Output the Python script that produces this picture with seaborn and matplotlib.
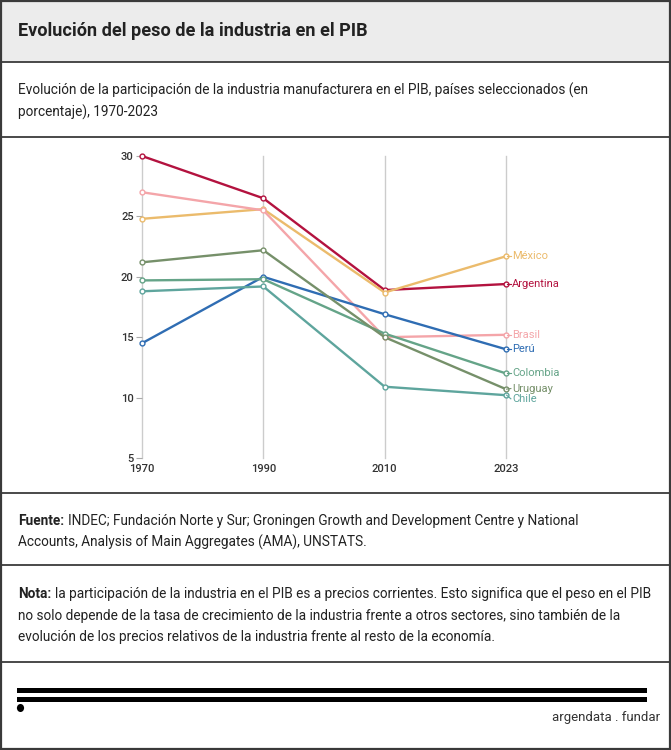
import matplotlib
matplotlib.use("Agg")
import matplotlib.pyplot as plt
import seaborn as sns
import pandas as pd
from matplotlib.lines import Line2D
from matplotlib.patches import Rectangle, Circle

# ---------------- data ----------------
years = ["1970", "1990", "2010", "2023"]
argentina = [30.0, 26.5, 18.9, 19.4]
mexico = [24.8, 25.6, 18.7, 21.7]
brasil = [27.0, 25.5, 15.0, 15.2]
peru = [14.5, 20.0, 16.9, 14.0]
colombia = [19.7, 19.8, 15.3, 12.0]
uruguay = [21.2, 22.2, 15.0, 10.7]
chile = [18.8, 19.2, 10.9, 10.2]
countries = ["Argentina", "México", "Brasil", "Perú", "Colombia", "Uruguay", "Chile"]
series = [argentina, mexico, brasil, peru, colombia, uruguay, chile]
label_y = [19.4, 21.7, 15.2, 14.0, 12.0, 10.75, 9.9]
yticks = [5, 10, 15, 20, 25, 30]

colors = {
    "Argentina": "#b3123f",
    "México": "#ebbb6c",
    "Brasil": "#f4a5a9",
    "Perú": "#2f6db3",
    "Colombia": "#65a488",
    "Uruguay": "#76906a",
    "Chile": "#5ea59d",
}

rows = []
for c, vals in zip(countries, series):
    for y, v in zip(years, vals):
        rows.append({"year": y, "value": v, "country": c})
df = pd.DataFrame(rows)

W, H = 671, 750
fig = plt.figure(figsize=(W / 100, H / 100), dpi=100)
plt.rcParams["font.family"] = ["Roboto", "DejaVu Sans"]

def fx(x):
    return x / W

def fy(y):
    return 1 - y / H

# ---------------- frame / boxes ----------------
fig.add_artist(Rectangle((0, fy(62)), 1, 62 / H, transform=fig.transFigure,
                         facecolor="#ececec", edgecolor="none", zorder=0))
border = "#3a3a3a"
for yy in [62, 137, 493, 565, 662]:
    fig.add_artist(Line2D([0, 1], [fy(yy), fy(yy)], transform=fig.transFigure,
                          color=border, lw=1.3))
fig.add_artist(Rectangle((0.001, 0.001), 0.998, 0.998, transform=fig.transFigure,
                         facecolor="none", edgecolor=border, lw=1.6, zorder=5))

txtc = "#222222"
fig.text(fx(18), fy(31), "Evolución del peso de la industria en el PIB",
         fontsize=13.1, fontweight="bold", color=txtc, va="center", ha="left")
fig.text(fx(18), fy(90), "Evolución de la participación de la industria manufacturera en el PIB, países seleccionados (en",
         fontsize=9.8, color=txtc, va="center", ha="left")
fig.text(fx(18), fy(112), "porcentaje), 1970-2023",
         fontsize=9.8, color=txtc, va="center", ha="left")

fig.canvas.draw()
renderer = fig.canvas.get_renderer()

def mixed(x, y, bold, rest, size=9.8):
    t = fig.text(fx(x), fy(y), bold, fontsize=size, fontweight="bold",
                 color=txtc, va="center", ha="left")
    bb = t.get_window_extent(renderer=renderer)
    fig.text(fx(x) + (bb.width + 3.5) / W, fy(y), rest, fontsize=size,
             color=txtc, va="center", ha="left")

mixed(18, 521, "Fuente:", "INDEC; Fundación Norte y Sur; Groningen Growth and Development Centre y National")
fig.text(fx(18), fy(542), "Accounts, Analysis of Main Aggregates (AMA), UNSTATS.",
         fontsize=9.8, color=txtc, va="center", ha="left")
mixed(18, 594, "Nota:", "la participación de la industria en el PIB es a precios corrientes. Esto significa que el peso en el PIB")
fig.text(fx(18), fy(616), "no solo depende de la tasa de crecimiento de la industria frente a otros sectores, sino también de la",
         fontsize=9.8, color=txtc, va="center", ha="left")
fig.text(fx(18), fy(637), "evolución de los precios relativos de la industria frente al resto de la economía.",
         fontsize=9.8, color=txtc, va="center", ha="left")

# footer logo
for yy in [690.5, 699.5]:
    fig.add_artist(Rectangle((fx(17), fy(yy + 2.8)), (647 - 17) / W, 5.6 / H,
                             transform=fig.transFigure, facecolor="black", edgecolor="none"))
fig.add_artist(Circle((fx(20.5), fy(708)), 3.6 / W, transform=fig.transFigure,
                      facecolor="black", edgecolor="none"))
fig.text(fx(660), fy(718), "argendata . fundar", fontsize=9.5, color="#333333",
         ha="right", va="center")

# ---------------- chart ----------------
ax = fig.add_axes([fx(142), fy(458), (506 - 142) / W, (458 - 156) / H])
sns.lineplot(data=df, x="year", y="value", hue="country", palette=colors,
             hue_order=countries, marker="o", markersize=3.5, markerfacecolor="white",
             markeredgewidth=1.0, linewidth=1.7, legend=False, ax=ax, sort=False)
for ln in ax.lines:
    ln.set_clip_on(False)
    ln.set_markeredgecolor(ln.get_color())

ax.set_xlim(0, 3)
ax.set_ylim(5, 30)
ax.set_yticks(yticks)
ax.set_yticklabels([str(v) for v in yticks])
ax.set_xticks(range(len(years)))
ax.set_xticklabels(years)
for s in ax.spines.values():
    s.set_visible(False)
for i in range(len(years)):
    ax.axvline(i, color="#cccccc", lw=1, zorder=0, clip_on=False)
ax.tick_params(axis="y", length=4, width=0.8, color="#aaaaaa", pad=2,
               labelsize=8, labelcolor="#333333")
ax.tick_params(axis="x", length=0, pad=4, labelsize=8, labelcolor="#333333")
for lab in ax.get_xticklabels() + ax.get_yticklabels():
    lab.set_fontweight("medium")
ax.set_xlabel("")
ax.set_ylabel("")
ax.set_facecolor("none")

last = len(years) - 1
for c, vals, ly in zip(countries, series, label_y):
    ax.plot([last + 0.005, last + 0.04], [vals[-1], ly], color=colors[c], lw=0.8, clip_on=False)
    ax.text(last + 0.05, ly, c, color=colors[c], fontsize=8, va="center", ha="left")

fig.savefig("out.png", dpi=100)
